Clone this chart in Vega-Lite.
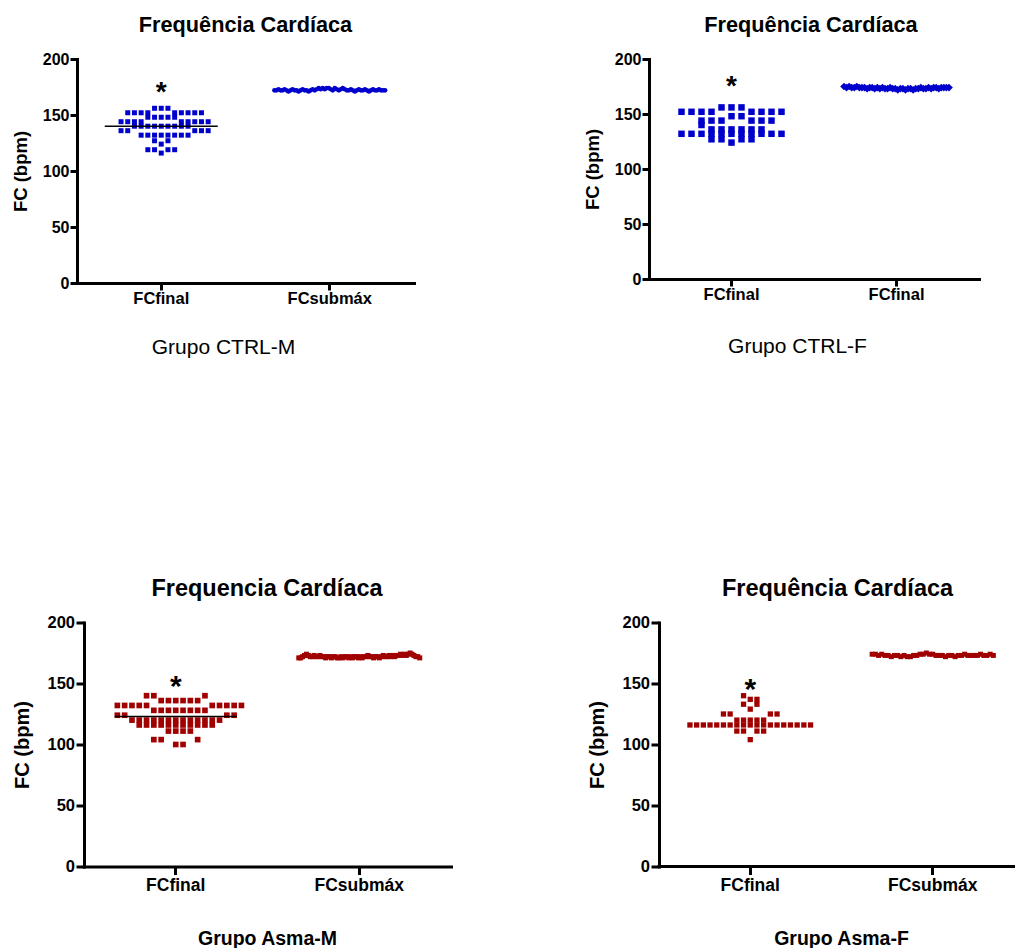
{
"$schema": "https://vega.github.io/schema/vega-lite/v6.json",
"padding": {"left": 11, "top": 15, "right": 0, "bottom": 0},
"config": {
  "view": {"stroke": null},
  "font": "Liberation Sans",
  "axis": {"grid": false, "domainColor": "black", "tickColor": "black", "labelColor": "black", "titleColor": "black", "domainWidth": 3, "tickWidth": 3, "domainCap": "square", "labelFontWeight": "bold", "titleFontWeight": "bold", "labelFont": "Liberation Sans", "titleFont": "Liberation Sans"},
  "title": {"color": "black", "font": "Liberation Sans", "fontWeight": "bold", "anchor": "middle"}
},
"datasets": {
  "stars": [
    {"panel": "CTRL-M", "group": "FCfinal", "value": 170, "label": "*"},
    {"panel": "CTRL-F", "group": "FCfinal", "value": 175, "label": "*"},
    {"panel": "Asma-M", "group": "FCfinal", "value": 147, "label": "*"},
    {"panel": "Asma-F", "group": "FCfinal", "value": 145, "label": "*"}
  ],
  "ctrlM": [
    {"group":"FCfinal","value":156},{"group":"FCfinal","value":156},{"group":"FCfinal","value":156},
    {"group":"FCfinal","value":152},{"group":"FCfinal","value":152},{"group":"FCfinal","value":152},{"group":"FCfinal","value":152},{"group":"FCfinal","value":152},{"group":"FCfinal","value":152},{"group":"FCfinal","value":152},{"group":"FCfinal","value":152},{"group":"FCfinal","value":152},
    {"group":"FCfinal","value":148},{"group":"FCfinal","value":148},{"group":"FCfinal","value":148},{"group":"FCfinal","value":148},{"group":"FCfinal","value":148},
    {"group":"FCfinal","value":144},{"group":"FCfinal","value":144},{"group":"FCfinal","value":144},{"group":"FCfinal","value":144},{"group":"FCfinal","value":144},{"group":"FCfinal","value":144},{"group":"FCfinal","value":144},{"group":"FCfinal","value":144},{"group":"FCfinal","value":144},
    {"group":"FCfinal","value":140},{"group":"FCfinal","value":140},{"group":"FCfinal","value":140},{"group":"FCfinal","value":140},{"group":"FCfinal","value":140},{"group":"FCfinal","value":140},{"group":"FCfinal","value":140},{"group":"FCfinal","value":140},{"group":"FCfinal","value":140},
    {"group":"FCfinal","value":136},{"group":"FCfinal","value":136},{"group":"FCfinal","value":136},{"group":"FCfinal","value":136},{"group":"FCfinal","value":136},
    {"group":"FCfinal","value":132},{"group":"FCfinal","value":132},{"group":"FCfinal","value":132},{"group":"FCfinal","value":132},{"group":"FCfinal","value":132},{"group":"FCfinal","value":132},{"group":"FCfinal","value":132},{"group":"FCfinal","value":132},
    {"group":"FCfinal","value":124},{"group":"FCfinal","value":127},{"group":"FCfinal","value":127},
    {"group":"FCfinal","value":116},{"group":"FCfinal","value":119},{"group":"FCfinal","value":119},{"group":"FCfinal","value":119},{"group":"FCfinal","value":119},
    {"group":"FCsubmáx","value":172},{"group":"FCsubmáx","value":172},{"group":"FCsubmáx","value":173},{"group":"FCsubmáx","value":172},{"group":"FCsubmáx","value":172},{"group":"FCsubmáx","value":173},{"group":"FCsubmáx","value":172},{"group":"FCsubmáx","value":171},
    {"group":"FCsubmáx","value":172},{"group":"FCsubmáx","value":173},{"group":"FCsubmáx","value":172},{"group":"FCsubmáx","value":172},{"group":"FCsubmáx","value":171},{"group":"FCsubmáx","value":172},{"group":"FCsubmáx","value":173},{"group":"FCsubmáx","value":172},
    {"group":"FCsubmáx","value":172},{"group":"FCsubmáx","value":171},{"group":"FCsubmáx","value":172},{"group":"FCsubmáx","value":173},{"group":"FCsubmáx","value":172},{"group":"FCsubmáx","value":173},{"group":"FCsubmáx","value":174},{"group":"FCsubmáx","value":173},
    {"group":"FCsubmáx","value":174},{"group":"FCsubmáx","value":173},{"group":"FCsubmáx","value":174},{"group":"FCsubmáx","value":174},{"group":"FCsubmáx","value":173},{"group":"FCsubmáx","value":172},{"group":"FCsubmáx","value":174},{"group":"FCsubmáx","value":173},
    {"group":"FCsubmáx","value":172},{"group":"FCsubmáx","value":173},{"group":"FCsubmáx","value":174},{"group":"FCsubmáx","value":173},{"group":"FCsubmáx","value":172},{"group":"FCsubmáx","value":172},{"group":"FCsubmáx","value":173},{"group":"FCsubmáx","value":172},
    {"group":"FCsubmáx","value":171},{"group":"FCsubmáx","value":172},{"group":"FCsubmáx","value":173},{"group":"FCsubmáx","value":172},{"group":"FCsubmáx","value":172},{"group":"FCsubmáx","value":173},{"group":"FCsubmáx","value":172},{"group":"FCsubmáx","value":171},
    {"group":"FCsubmáx","value":172},{"group":"FCsubmáx","value":173},{"group":"FCsubmáx","value":172},{"group":"FCsubmáx","value":172},{"group":"FCsubmáx","value":173},{"group":"FCsubmáx","value":172},{"group":"FCsubmáx","value":172},{"group":"FCsubmáx","value":172}
  ],
  "ctrlF": [
    {"group":"FCfinal","value":156},{"group":"FCfinal","value":156},{"group":"FCfinal","value":156},
    {"group":"FCfinal","value":152},{"group":"FCfinal","value":152},{"group":"FCfinal","value":152},{"group":"FCfinal","value":152},{"group":"FCfinal","value":152},{"group":"FCfinal","value":152},{"group":"FCfinal","value":152},{"group":"FCfinal","value":152},
    {"group":"FCfinal","value":148},{"group":"FCfinal","value":148},
    {"group":"FCfinal","value":144},{"group":"FCfinal","value":144},{"group":"FCfinal","value":144},{"group":"FCfinal","value":144},{"group":"FCfinal","value":144},{"group":"FCfinal","value":144},
    {"group":"FCfinal","value":136},{"group":"FCfinal","value":136},{"group":"FCfinal","value":136},{"group":"FCfinal","value":136},{"group":"FCfinal","value":136},{"group":"FCfinal","value":136},
    {"group":"FCfinal","value":140},
    {"group":"FCfinal","value":132},{"group":"FCfinal","value":132},{"group":"FCfinal","value":132},{"group":"FCfinal","value":132},{"group":"FCfinal","value":132},{"group":"FCfinal","value":132},{"group":"FCfinal","value":132},{"group":"FCfinal","value":132},{"group":"FCfinal","value":132},{"group":"FCfinal","value":132},{"group":"FCfinal","value":132},
    {"group":"FCfinal","value":124},
    {"group":"FCfinal","value":127},{"group":"FCfinal","value":127},{"group":"FCfinal","value":127},{"group":"FCfinal","value":127},
    {"group":"FCsubmáx","value":175},{"group":"FCsubmáx","value":174},{"group":"FCsubmáx","value":175},{"group":"FCsubmáx","value":174},{"group":"FCsubmáx","value":174},{"group":"FCsubmáx","value":175},{"group":"FCsubmáx","value":174},{"group":"FCsubmáx","value":174},
    {"group":"FCsubmáx","value":174},{"group":"FCsubmáx","value":173},{"group":"FCsubmáx","value":174},{"group":"FCsubmáx","value":174},{"group":"FCsubmáx","value":173},{"group":"FCsubmáx","value":174},{"group":"FCsubmáx","value":173},{"group":"FCsubmáx","value":174},
    {"group":"FCsubmáx","value":173},{"group":"FCsubmáx","value":173},{"group":"FCsubmáx","value":174},{"group":"FCsubmáx","value":173},{"group":"FCsubmáx","value":173},{"group":"FCsubmáx","value":172},{"group":"FCsubmáx","value":173},{"group":"FCsubmáx","value":173},
    {"group":"FCsubmáx","value":172},{"group":"FCsubmáx","value":173},{"group":"FCsubmáx","value":173},{"group":"FCsubmáx","value":172},{"group":"FCsubmáx","value":173},{"group":"FCsubmáx","value":173},{"group":"FCsubmáx","value":174},{"group":"FCsubmáx","value":173},
    {"group":"FCsubmáx","value":173},{"group":"FCsubmáx","value":174},{"group":"FCsubmáx","value":173},{"group":"FCsubmáx","value":174},{"group":"FCsubmáx","value":174},{"group":"FCsubmáx","value":173},{"group":"FCsubmáx","value":174},{"group":"FCsubmáx","value":174},
    {"group":"FCsubmáx","value":174},{"group":"FCsubmáx","value":174}
  ],
  "asmaM": [
    {"group":"FCfinal","value":136},{"group":"FCfinal","value":136},{"group":"FCfinal","value":136},{"group":"FCfinal","value":136},{"group":"FCfinal","value":136},{"group":"FCfinal","value":136},
    {"group":"FCfinal","value":140},{"group":"FCfinal","value":140},{"group":"FCfinal","value":140},
    {"group":"FCfinal","value":128},{"group":"FCfinal","value":128},{"group":"FCfinal","value":128},{"group":"FCfinal","value":128},{"group":"FCfinal","value":128},{"group":"FCfinal","value":128},{"group":"FCfinal","value":128},{"group":"FCfinal","value":128},
    {"group":"FCfinal","value":132},{"group":"FCfinal","value":132},{"group":"FCfinal","value":132},{"group":"FCfinal","value":132},{"group":"FCfinal","value":132},{"group":"FCfinal","value":132},{"group":"FCfinal","value":132},{"group":"FCfinal","value":132},{"group":"FCfinal","value":132},{"group":"FCfinal","value":132},
    {"group":"FCfinal","value":120},{"group":"FCfinal","value":120},{"group":"FCfinal","value":120},{"group":"FCfinal","value":120},{"group":"FCfinal","value":120},{"group":"FCfinal","value":120},{"group":"FCfinal","value":120},{"group":"FCfinal","value":120},{"group":"FCfinal","value":120},{"group":"FCfinal","value":120},{"group":"FCfinal","value":120},{"group":"FCfinal","value":120},{"group":"FCfinal","value":120},
    {"group":"FCfinal","value":124},{"group":"FCfinal","value":124},{"group":"FCfinal","value":124},{"group":"FCfinal","value":124},
    {"group":"FCfinal","value":116},{"group":"FCfinal","value":116},{"group":"FCfinal","value":116},{"group":"FCfinal","value":116},{"group":"FCfinal","value":116},{"group":"FCfinal","value":116},{"group":"FCfinal","value":116},{"group":"FCfinal","value":116},{"group":"FCfinal","value":116},{"group":"FCfinal","value":116},{"group":"FCfinal","value":116},
    {"group":"FCfinal","value":111},{"group":"FCfinal","value":111},{"group":"FCfinal","value":111},{"group":"FCfinal","value":111},
    {"group":"FCfinal","value":104},{"group":"FCfinal","value":104},{"group":"FCfinal","value":104},
    {"group":"FCfinal","value":100},{"group":"FCfinal","value":100},
    {"group":"FCsubmáx","value":171},{"group":"FCsubmáx","value":171},{"group":"FCsubmáx","value":172},{"group":"FCsubmáx","value":173},{"group":"FCsubmáx","value":174},{"group":"FCsubmáx","value":173},{"group":"FCsubmáx","value":172},{"group":"FCsubmáx","value":172},
    {"group":"FCsubmáx","value":173},{"group":"FCsubmáx","value":172},{"group":"FCsubmáx","value":172},{"group":"FCsubmáx","value":173},{"group":"FCsubmáx","value":172},{"group":"FCsubmáx","value":172},{"group":"FCsubmáx","value":171},{"group":"FCsubmáx","value":172},
    {"group":"FCsubmáx","value":172},{"group":"FCsubmáx","value":171},{"group":"FCsubmáx","value":172},{"group":"FCsubmáx","value":172},{"group":"FCsubmáx","value":171},{"group":"FCsubmáx","value":171},{"group":"FCsubmáx","value":172},{"group":"FCsubmáx","value":171},
    {"group":"FCsubmáx","value":172},{"group":"FCsubmáx","value":172},{"group":"FCsubmáx","value":171},{"group":"FCsubmáx","value":172},{"group":"FCsubmáx","value":171},{"group":"FCsubmáx","value":172},{"group":"FCsubmáx","value":172},{"group":"FCsubmáx","value":171},
    {"group":"FCsubmáx","value":172},{"group":"FCsubmáx","value":171},{"group":"FCsubmáx","value":172},{"group":"FCsubmáx","value":172},{"group":"FCsubmáx","value":173},{"group":"FCsubmáx","value":172},{"group":"FCsubmáx","value":172},{"group":"FCsubmáx","value":171},
    {"group":"FCsubmáx","value":172},{"group":"FCsubmáx","value":172},{"group":"FCsubmáx","value":171},{"group":"FCsubmáx","value":172},{"group":"FCsubmáx","value":173},{"group":"FCsubmáx","value":172},{"group":"FCsubmáx","value":172},{"group":"FCsubmáx","value":173},
    {"group":"FCsubmáx","value":172},{"group":"FCsubmáx","value":173},{"group":"FCsubmáx","value":172},{"group":"FCsubmáx","value":173},{"group":"FCsubmáx","value":173},{"group":"FCsubmáx","value":174},{"group":"FCsubmáx","value":173},{"group":"FCsubmáx","value":174},
    {"group":"FCsubmáx","value":173},{"group":"FCsubmáx","value":174},{"group":"FCsubmáx","value":175},{"group":"FCsubmáx","value":174},{"group":"FCsubmáx","value":173},{"group":"FCsubmáx","value":172},{"group":"FCsubmáx","value":172},{"group":"FCsubmáx","value":171}
  ],
  "asmaF": [
    {"group":"FCfinal","value":137},{"group":"FCfinal","value":137},{"group":"FCfinal","value":140},
    {"group":"FCfinal","value":129},{"group":"FCfinal","value":133},{"group":"FCfinal","value":133},
    {"group":"FCfinal","value":120},{"group":"FCfinal","value":120},{"group":"FCfinal","value":120},{"group":"FCfinal","value":120},{"group":"FCfinal","value":120},
    {"group":"FCfinal","value":125},{"group":"FCfinal","value":125},{"group":"FCfinal","value":125},{"group":"FCfinal","value":125},
    {"group":"FCfinal","value":116},{"group":"FCfinal","value":116},{"group":"FCfinal","value":116},{"group":"FCfinal","value":116},{"group":"FCfinal","value":116},{"group":"FCfinal","value":116},{"group":"FCfinal","value":116},{"group":"FCfinal","value":116},{"group":"FCfinal","value":116},{"group":"FCfinal","value":116},
    {"group":"FCfinal","value":116},{"group":"FCfinal","value":116},{"group":"FCfinal","value":116},{"group":"FCfinal","value":116},{"group":"FCfinal","value":116},{"group":"FCfinal","value":116},{"group":"FCfinal","value":116},{"group":"FCfinal","value":116},{"group":"FCfinal","value":116},
    {"group":"FCfinal","value":104},
    {"group":"FCfinal","value":111},{"group":"FCfinal","value":111},{"group":"FCfinal","value":111},{"group":"FCfinal","value":111},
    {"group":"FCsubmáx","value":174},{"group":"FCsubmáx","value":174},{"group":"FCsubmáx","value":173},{"group":"FCsubmáx","value":174},{"group":"FCsubmáx","value":173},{"group":"FCsubmáx","value":173},{"group":"FCsubmáx","value":172},{"group":"FCsubmáx","value":173},
    {"group":"FCsubmáx","value":173},{"group":"FCsubmáx","value":172},{"group":"FCsubmáx","value":173},{"group":"FCsubmáx","value":172},{"group":"FCsubmáx","value":172},{"group":"FCsubmáx","value":173},{"group":"FCsubmáx","value":173},{"group":"FCsubmáx","value":174},
    {"group":"FCsubmáx","value":174},{"group":"FCsubmáx","value":175},{"group":"FCsubmáx","value":174},{"group":"FCsubmáx","value":174},{"group":"FCsubmáx","value":173},{"group":"FCsubmáx","value":173},{"group":"FCsubmáx","value":173},{"group":"FCsubmáx","value":172},
    {"group":"FCsubmáx","value":173},{"group":"FCsubmáx","value":173},{"group":"FCsubmáx","value":172},{"group":"FCsubmáx","value":173},{"group":"FCsubmáx","value":173},{"group":"FCsubmáx","value":174},{"group":"FCsubmáx","value":173},{"group":"FCsubmáx","value":173},
    {"group":"FCsubmáx","value":173},{"group":"FCsubmáx","value":173},{"group":"FCsubmáx","value":174},{"group":"FCsubmáx","value":173},{"group":"FCsubmáx","value":173},{"group":"FCsubmáx","value":174},{"group":"FCsubmáx","value":173}
  ]
},
"resolve": {"scale": {"xOffset": "independent"}},
"spacing": 219.5,
"vconcat": [
  {
    "spacing": 169,
    "resolve": {"scale": {"xOffset": "independent"}},
    "hconcat": [
      {
        "width": 337, "height": 224,
        "title": {"text": "Frequência Cardíaca", "fontSize": 21.7, "offset": 14},
        "layer": [
          {
            "data": {"name": "ctrlM"},
            "transform": [
              {"filter": "datum.group == 'FCfinal'"},
              {"calculate": "floor(datum.value / 8)", "as": "bin"},
              {"window": [{"op": "row_number", "as": "rn"}], "groupby": ["bin"]},
              {"calculate": "(datum.rn % 2 == 0 ? 1 : -1) * floor(datum.rn / 2)", "as": "slot"}
            ],
            "mark": {"type": "point", "shape": "square", "filled": true, "size": 25, "color": "#0000CC", "opacity": 1},
            "encoding": {
              "x": {"field": "group", "type": "nominal", "scale": {"domain": ["FCfinal", "FCsubmáx"], "paddingInner": 0, "paddingOuter": 0},
                    "axis": {"title": "Grupo CTRL-M", "labelAngle": 0, "labelFontSize": 16.5, "labelPadding": 0.5, "tickSize": 7, "bandPosition": 0.5, "titleFontSize": 21, "titleFontWeight": "normal", "titlePadding": 29, "titleX": 146}},
              "xOffset": {"field": "slot", "type": "quantitative", "scale": {"domain": [-12.57, 12.57]}},
              "y": {"field": "value", "type": "quantitative", "scale": {"domain": [0, 200], "nice": false},
                    "axis": {"title": "FC (bpm)", "values": [0, 50, 100, 150, 200], "labelFontSize": 16, "labelPadding": 1, "tickSize": 7, "titleFontSize": 18.5, "titlePadding": 12}}
            }
          },
          {
            "data": {"name": "ctrlM"},
            "transform": [
              {"filter": "datum.group == 'FCsubmáx'"},
              {"window": [{"op": "row_number", "as": "rn"}]},
              {"joinaggregate": [{"op": "count", "as": "n"}]},
              {"calculate": "(datum.rn - (datum.n + 1) / 2) * 0.30", "as": "slot"}
            ],
            "mark": {"type": "point", "shape": "circle", "filled": true, "size": 22, "color": "#0000CC", "opacity": 1},
            "encoding": {
              "x": {"field": "group", "type": "nominal", "scale": {"domain": ["FCfinal", "FCsubmáx"], "paddingInner": 0, "paddingOuter": 0}},
              "xOffset": {"field": "slot", "type": "quantitative", "scale": {"domain": [-12.57, 12.57]}},
              "y": {"field": "value", "type": "quantitative", "scale": {"domain": [0, 200], "nice": false}}
            }
          },
          {
            "data": {"name": "ctrlM"},
            "transform": [{"filter": "datum.group == 'FCfinal'"}],
            "mark": {"type": "tick", "orient": "horizontal", "size": 113, "thickness": 1.5, "color": "black", "opacity": 1},
            "encoding": {
              "x": {"field": "group", "type": "nominal", "scale": {"domain": ["FCfinal", "FCsubmáx"], "paddingInner": 0, "paddingOuter": 0}},
              "y": {"aggregate": "mean", "field": "value", "type": "quantitative", "scale": {"domain": [0, 200], "nice": false}}
            }
          },
          {
            "data": {"name": "stars"},
            "transform": [{"filter": "datum.panel == 'CTRL-M'"}],
            "mark": {"type": "text", "fontSize": 28, "fontWeight": "bold", "baseline": "middle", "align": "center", "color": "black"},
            "encoding": {
              "x": {"field": "group", "type": "nominal", "scale": {"domain": ["FCfinal", "FCsubmáx"], "paddingInner": 0, "paddingOuter": 0}},
              "y": {"field": "value", "type": "quantitative", "scale": {"domain": [0, 200], "nice": false}},
              "text": {"field": "label"}
            }
          }
        ]
      },
      {
        "width": 330, "height": 220,
        "title": {"text": "Frequência Cardíaca", "fontSize": 21.7, "offset": 14, "dx": -3},
        "layer": [
          {
            "data": {"name": "ctrlF"},
            "transform": [
              {"filter": "datum.group == 'FCfinal'"},
              {"calculate": "floor(datum.value / 8)", "as": "bin"},
              {"window": [{"op": "row_number", "as": "rn"}], "groupby": ["bin"]},
              {"calculate": "(datum.rn % 2 == 0 ? 1 : -1) * floor(datum.rn / 2)", "as": "slot"}
            ],
            "mark": {"type": "point", "shape": "square", "filled": true, "size": 42, "color": "#0000CC", "opacity": 1},
            "encoding": {
              "x": {"field": "group", "type": "nominal", "scale": {"domain": ["FCfinal", "FCsubmáx"], "paddingInner": 0, "paddingOuter": 0},
                    "axis": {"title": "Grupo CTRL-F", "labelExpr": "'FCfinal'", "labelAngle": 0, "labelFontSize": 16.5, "labelPadding": 0.5, "tickSize": 7, "bandPosition": 0.5, "titleFontSize": 21, "titleFontWeight": "normal", "titlePadding": 32, "titleX": 148}},
              "xOffset": {"field": "slot", "type": "quantitative", "scale": {"domain": [-8.25, 8.25]}},
              "y": {"field": "value", "type": "quantitative", "scale": {"domain": [0, 200], "nice": false},
                    "axis": {"title": "FC (bpm)", "values": [0, 50, 100, 150, 200], "labelFontSize": 16, "labelPadding": 1, "tickSize": 7, "titleFontSize": 18.5, "titlePadding": 12}}
            }
          },
          {
            "data": {"name": "ctrlF"},
            "transform": [
              {"filter": "datum.group == 'FCsubmáx'"},
              {"window": [{"op": "row_number", "as": "rn"}]},
              {"joinaggregate": [{"op": "count", "as": "n"}]},
              {"calculate": "(datum.rn - (datum.n + 1) / 2) * 0.256", "as": "slot"}
            ],
            "mark": {"type": "point", "shape": "diamond", "filled": true, "size": 60, "color": "#0000CC", "opacity": 1},
            "encoding": {
              "x": {"field": "group", "type": "nominal", "scale": {"domain": ["FCfinal", "FCsubmáx"], "paddingInner": 0, "paddingOuter": 0}},
              "xOffset": {"field": "slot", "type": "quantitative", "scale": {"domain": [-8.25, 8.25]}},
              "y": {"field": "value", "type": "quantitative", "scale": {"domain": [0, 200], "nice": false}}
            }
          },
          {
            "data": {"name": "stars"},
            "transform": [{"filter": "datum.panel == 'CTRL-F'"}],
            "mark": {"type": "text", "fontSize": 28, "fontWeight": "bold", "baseline": "middle", "align": "center", "color": "black"},
            "encoding": {
              "x": {"field": "group", "type": "nominal", "scale": {"domain": ["FCfinal", "FCsubmáx"], "paddingInner": 0, "paddingOuter": 0}},
              "y": {"field": "value", "type": "quantitative", "scale": {"domain": [0, 200], "nice": false}},
              "text": {"field": "label"}
            }
          }
        ]
      }
    ]
  },
  {
    "spacing": 136,
    "resolve": {"scale": {"xOffset": "independent"}},
    "hconcat": [
      {
        "width": 374, "height": 244,
        "title": {"text": "Frequencia Cardíaca", "fontSize": 23.5, "offset": 14, "dx": 3},
        "layer": [
          {
            "data": {"name": "asmaM"},
            "transform": [
              {"filter": "datum.group == 'FCfinal'"},
              {"calculate": "floor(datum.value / 8)", "as": "bin"},
              {"window": [{"op": "row_number", "as": "rn"}], "groupby": ["bin"]},
              {"calculate": "(datum.rn % 2 == 0 ? 1 : -1) * floor(datum.rn / 2)", "as": "slot"}
            ],
            "mark": {"type": "point", "shape": "square", "filled": true, "size": 32, "color": "#A00000", "opacity": 1},
            "encoding": {
              "x": {"field": "group", "type": "nominal", "scale": {"domain": ["FCfinal", "FCsubmáx"], "paddingInner": 0, "paddingOuter": 0, "range": [7, 374]},
                    "axis": {"title": "Grupo Asma-M", "labelAngle": 0, "labelFontSize": 17.5, "labelPadding": 2, "tickSize": 8, "bandPosition": 0.5, "titleFontSize": 19.5, "titleFontWeight": "bold", "titlePadding": 35, "titleX": 190}},
              "xOffset": {"field": "slot", "type": "quantitative", "scale": {"domain": [-12.57, 12.57]}},
              "y": {"field": "value", "type": "quantitative", "scale": {"domain": [0, 200], "nice": false},
                    "axis": {"title": "FC (bpm)", "offset": -7, "values": [0, 50, 100, 150, 200], "labelFontSize": 16.5, "labelPadding": 1.5, "tickSize": 8, "titleFontSize": 20, "titlePadding": 14}}
            }
          },
          {
            "data": {"name": "asmaM"},
            "transform": [
              {"filter": "datum.group == 'FCsubmáx'"},
              {"window": [{"op": "row_number", "as": "rn"}]},
              {"joinaggregate": [{"op": "count", "as": "n"}]},
              {"calculate": "(datum.rn - (datum.n + 1) / 2) * 0.263", "as": "slot"}
            ],
            "mark": {"type": "point", "shape": "square", "filled": true, "size": 25, "color": "#A00000", "opacity": 1},
            "encoding": {
              "x": {"field": "group", "type": "nominal", "scale": {"domain": ["FCfinal", "FCsubmáx"], "paddingInner": 0, "paddingOuter": 0, "range": [7, 374]}},
              "xOffset": {"field": "slot", "type": "quantitative", "scale": {"domain": [-12.57, 12.57]}},
              "y": {"field": "value", "type": "quantitative", "scale": {"domain": [0, 200], "nice": false}}
            }
          },
          {
            "data": {"name": "asmaM"},
            "transform": [{"filter": "datum.group == 'FCfinal'"}],
            "mark": {"type": "tick", "orient": "horizontal", "size": 122, "thickness": 1.5, "color": "black", "opacity": 1},
            "encoding": {
              "x": {"field": "group", "type": "nominal", "scale": {"domain": ["FCfinal", "FCsubmáx"], "paddingInner": 0, "paddingOuter": 0, "range": [7, 374]}},
              "y": {"aggregate": "mean", "field": "value", "type": "quantitative", "scale": {"domain": [0, 200], "nice": false}}
            }
          },
          {
            "data": {"name": "stars"},
            "transform": [{"filter": "datum.panel == 'Asma-M'"}],
            "mark": {"type": "text", "fontSize": 30, "fontWeight": "bold", "baseline": "middle", "align": "center", "color": "black"},
            "encoding": {
              "x": {"field": "group", "type": "nominal", "scale": {"domain": ["FCfinal", "FCsubmáx"], "paddingInner": 0, "paddingOuter": 0, "range": [7, 374]}},
              "y": {"field": "value", "type": "quantitative", "scale": {"domain": [0, 200], "nice": false}},
              "text": {"field": "label"}
            }
          }
        ]
      },
      {
        "width": 357, "height": 244,
        "title": {"text": "Frequência Cardíaca", "fontSize": 23.5, "offset": 14},
        "layer": [
          {
            "data": {"name": "asmaF"},
            "transform": [
              {"filter": "datum.group == 'FCfinal'"},
              {"calculate": "floor(datum.value / 8)", "as": "bin"},
              {"window": [{"op": "row_number", "as": "rn"}], "groupby": ["bin"]},
              {"calculate": "(datum.rn % 2 == 0 ? 1 : -1) * floor(datum.rn / 2)", "as": "slot"}
            ],
            "mark": {"type": "point", "shape": "square", "filled": true, "size": 28, "color": "#A00000", "opacity": 1},
            "encoding": {
              "x": {"field": "group", "type": "nominal", "scale": {"domain": ["FCfinal", "FCsubmáx"], "paddingInner": 0, "paddingOuter": 0, "range": [0, 365]},
                    "axis": {"title": "Grupo Asma-F", "domain": false, "labelAngle": 0, "labelFontSize": 17.5, "labelPadding": 2, "tickSize": 8, "bandPosition": 0.5, "titleFontSize": 19.5, "titleFontWeight": "bold", "titlePadding": 35, "titleX": 182}},
              "xOffset": {"field": "slot", "type": "quantitative", "scale": {"domain": [-13.62, 13.62]}},
              "y": {"field": "value", "type": "quantitative", "scale": {"domain": [0, 200], "nice": false},
                    "axis": {"title": "FC (bpm)", "values": [0, 50, 100, 150, 200], "labelFontSize": 16.5, "labelPadding": 1.5, "tickSize": 8, "titleFontSize": 20, "titlePadding": 14}}
            }
          },
          {
            "data": {"name": "asmaF"},
            "transform": [
              {"filter": "datum.group == 'FCsubmáx'"},
              {"window": [{"op": "row_number", "as": "rn"}]},
              {"joinaggregate": [{"op": "count", "as": "n"}]},
              {"calculate": "(datum.rn - (datum.n + 1) / 2) * 0.476", "as": "slot"}
            ],
            "mark": {"type": "point", "shape": "square", "filled": true, "size": 25, "color": "#A00000", "opacity": 1},
            "encoding": {
              "x": {"field": "group", "type": "nominal", "scale": {"domain": ["FCfinal", "FCsubmáx"], "paddingInner": 0, "paddingOuter": 0, "range": [0, 365]}},
              "xOffset": {"field": "slot", "type": "quantitative", "scale": {"domain": [-13.62, 13.62]}},
              "y": {"field": "value", "type": "quantitative", "scale": {"domain": [0, 200], "nice": false}}
            }
          },
          {
            "data": {"values": [{}]},
            "mark": {"type": "rule", "strokeWidth": 3, "color": "black", "strokeCap": "square"},
            "encoding": {
              "y": {"datum": 0, "type": "quantitative", "scale": {"domain": [0, 200], "nice": false}}
            }
          },
          {
            "data": {"name": "stars"},
            "transform": [{"filter": "datum.panel == 'Asma-F'"}],
            "mark": {"type": "text", "fontSize": 30, "fontWeight": "bold", "baseline": "middle", "align": "center", "color": "black"},
            "encoding": {
              "x": {"field": "group", "type": "nominal", "scale": {"domain": ["FCfinal", "FCsubmáx"], "paddingInner": 0, "paddingOuter": 0, "range": [0, 365]}},
              "y": {"field": "value", "type": "quantitative", "scale": {"domain": [0, 200], "nice": false}},
              "text": {"field": "label"}
            }
          }
        ]
      }
    ]
  }
]
}
